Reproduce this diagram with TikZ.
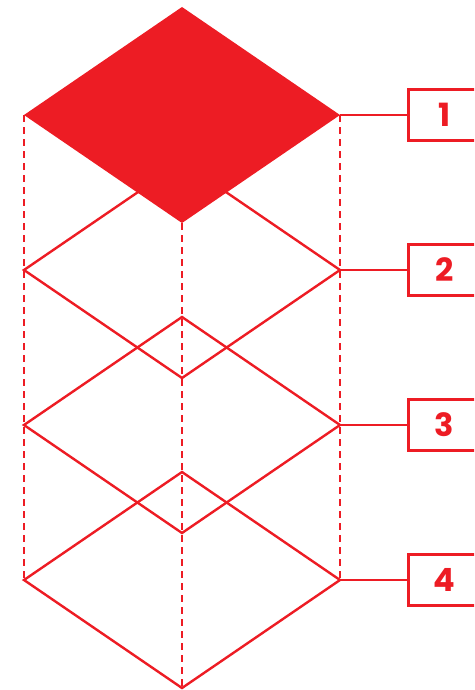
\documentclass[tikz,border=0pt]{standalone}
\usepackage{fontspec}
\newfontfamily\numfont{Poppins}
\definecolor{cred}{HTML}{ED1C24}
\begin{document}
\begin{tikzpicture}[x=1pt,y=-1pt,
  outl/.style={draw=cred,line width=2.4pt,line join=miter},
  guide/.style={draw=cred,line width=2.4pt,dash pattern=on 7pt off 5pt},
  numbox/.style={draw=cred,line width=2.6pt,minimum width=72pt,minimum height=51pt,inner sep=0pt,font=\numfont\bfseries\fontsize{32}{32}\selectfont,text=cred,anchor=west},
  link/.style={draw=cred,line width=2.4pt}]
\useasboundingbox (0,0) rectangle (474,690);
\clip (0,0) rectangle (474,690);
% diamond vertices
\foreach \i/\c in {1/115,2/270,3/425,4/580}{
  \coordinate (L\i) at (24,\c);
  \coordinate (R\i) at (340,\c);
  \coordinate (T\i) at (182,\c-108);
  \coordinate (B\i) at (182,\c+108);
}
% outlined diamonds
\draw[outl] (L4) -- (T4) -- (R4) -- (B4) -- cycle;
\draw[outl] (L3) -- (T3) -- (R3) -- (B3) -- cycle;
\draw[outl] (L2) -- (T2) -- (R2) -- (B2) -- cycle;
% dashed guides
\draw[guide] (L1) -- (L4);
\draw[guide] (R1) -- (R4);
\draw[guide] (B1) -- (B4);
% filled top diamond
\fill[cred] (L1) -- (T1) -- (R1) -- (B1) -- cycle;
% labels
\node[numbox] (n1) at (407,115) {1};
\node[numbox] (n2) at (407,270) {2};
\node[numbox] (n3) at (407,425) {3};
\node[numbox] (n4) at (407,580) {4};
\draw[link] (R1) -- (n1.west);
\draw[link] (R2) -- (n2.west);
\draw[link] (R3) -- (n3.west);
\draw[link] (R4) -- (n4.west);
\end{tikzpicture}
\end{document}
